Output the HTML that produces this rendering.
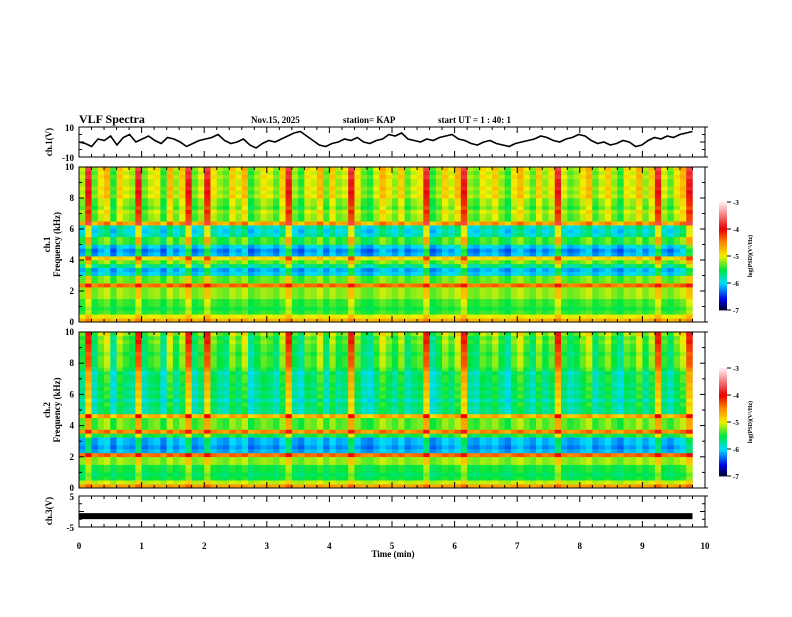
<!DOCTYPE html>
<html><head><meta charset="utf-8"><style>
body{margin:0;background:#fff}
svg text{font-family:"Liberation Serif",serif;font-weight:bold;fill:#000}
</style></head><body>
<svg id="c" width="792" height="612" xmlns="http://www.w3.org/2000/svg">
<text x="79" y="123" font-size="12">VLF Spectra</text>
<text x="251" y="123" font-size="9">Nov.15, 2025</text>
<text x="343" y="123" font-size="9">station= KAP</text>
<text x="438" y="123" font-size="9">start  UT =  1 : 40: 1</text>
<text x="393" y="557" font-size="9" text-anchor="middle">Time (min)</text>
</svg>
<script>
// ---- data ----
const timeMin = 9.8;
const ch1Volts = [0,-1,-3,2,1,4,-2,3,5,0,2,4,1,-1,3,2,0,-3,-1,1,2,3,5,1,-1,0,2,-2,-4,-1,1,0,2,4,6,7,4,1,-2,-3,-1,0,2,1,3,0,-1,1,2,5,4,6,2,1,0,2,1,3,4,5,2,1,-1,-2,0,1,-1,-2,-3,-1,0,1,2,4,3,1,0,2,3,5,4,1,-1,0,-2,-1,1,0,-3,-2,1,3,2,4,3,5,6,7];
const ch3Volts = -1.5;
const timeBurst = [0.45,0.9,0.3,0.6,0.8,0.2,0.7,0.5,0.4,0.9,0.3,0.5,0.6,0.2,0.8,0.4,0.7,0.9,0.3,0.5,0.9,0.6,0.4,0.3,0.7,0.5,0.8,0.2,0.4,0.6,0.5,0.3,0.7,0.9,0.4,0.2,0.6,0.5,0.8,0.3,0.7,0.4,0.5,0.9,0.6,0.3,0.2,0.5,0.8,0.6,0.4,0.7,0.3,0.5,0.6,0.9,0.2,0.4,0.7,0.5,0.8,0.9,0.4,0.3,0.6,0.5,0.7,0.4,0.2,0.6,0.8,0.5,0.3,0.7,0.4,0.6,0.9,0.5,0.3,0.4,0.6,0.8,0.3,0.5,0.7,0.4,0.2,0.6,0.5,0.8,0.4,0.7,0.9,0.5,0.3,0.6,0.8,0.9];
// log PSD per 0.25 kHz band, 0..10 kHz
const ch1Profile = [-4.7,-5.0,-5.4,-5.5,-5.4,-5.4,-5.2,-5.2,-5.2,-4.4,-5.3,-5.3,-6.0,-6.1,-5.7,-5.3,-4.9,-6.1,-6.2,-6.0,-5.4,-5.4,-5.8,-5.9,-5.8,-4.6,-5.2,-5.2,-5.1,-5.3,-5.2,-5.2,-5.0,-5.1,-5.0,-5.1,-5.1,-5.0,-5.1,-5.0];
const ch2Profile = [-4.6,-5.1,-5.5,-5.6,-5.5,-5.5,-5.2,-5.2,-4.4,-6.1,-6.2,-6.1,-6.1,-5.5,-4.5,-5.3,-5.3,-5.3,-4.7,-5.7,-5.7,-5.6,-5.8,-5.6,-5.7,-5.6,-5.7,-5.6,-5.6,-5.7,-5.5,-5.4,-5.4,-5.4,-5.5,-5.4,-5.4,-5.3,-5.4,-5.2];
const xTicks = [0,1,2,3,4,5,6,7,8,9,10];
const cbTicks = [-3,-4,-5,-6,-7];

const svg = document.getElementById('c');
const NS = 'http://www.w3.org/2000/svg';
const X0 = 79, X1 = 705;
const xs = t => X0 + t/10*(X1-X0);
function el(tag, a, p){const e=document.createElementNS(NS,tag);for(const k in a)e.setAttribute(k,a[k]);(p||svg).appendChild(e);return e;}
function txt(x,y,s,size,anchor,p){const e=el('text',{x,y,'font-size':size,'text-anchor':anchor||'start'},p);e.textContent=s;return e;}
const stops=[[-7,[0,0,40]],[-6.6,[0,0,230]],[-6,[0,220,255]],[-5.5,[0,230,60]],[-5,[240,240,0]],[-4.5,[255,140,0]],[-4,[230,0,0]],[-3,[255,240,245]]];
function cmap(v){v=Math.max(-7,Math.min(-3,v));for(let i=1;i<stops.length;i++){if(v<=stops[i][0]){const a=stops[i-1],b=stops[i],f=(v-a[0])/(b[0]-a[0]);const c=a[1].map((q,j)=>Math.round(q+(b[1][j]-q)*f));return `rgb(${c})`;}}return 'rgb(255,240,245)';}

function xAxisTicks(yTop,yBot,g){
  for(let i=0;i<=50;i++){const x=xs(i*0.2),L=(i%5==0)?6:3;
    el('line',{x1:x,y1:yTop,x2:x,y2:yTop+L,stroke:'#000','stroke-width':1},g);
    el('line',{x1:x,y1:yBot,x2:x,y2:yBot-L,stroke:'#000','stroke-width':1},g);}
}
function frame(y0,y1,name){const g=el('g',{});
  el('rect',{x:X0,y:y0,width:X1-X0,height:y1-y0,fill:'none',stroke:'#000','stroke-width':1},g);
  el('line',{x1:X0,y1:y0,x2:X1+3,y2:y0,stroke:'#000'},g);el('line',{x1:X0,y1:y1,x2:X1+3,y2:y1,stroke:'#000'},g);
  xAxisTicks(y0,y1,g);return g;}
function yTicks(y0,y1,n,g){for(let i=0;i<=n;i++){const y=y0+(y1-y0)*i/n,L=(i%2==0)?5:3;
  el('line',{x1:X0,y1:y,x2:X0+L,y2:y,stroke:'#000'},g);el('line',{x1:X1,y1:y,x2:X1-L,y2:y,stroke:'#000'},g);}}

// ch1 trace panel
const T0=127,T1=157;
const g1=frame(T0,T1,'ch1-panel');
yTicks(T0,T1,4,g1);
const ty=v=>(T0+T1)/2 - v/10*(T1-T0)/2;
const pts=ch1Volts.map((v,i)=>`${xs(i*timeMin/(ch1Volts.length-1)).toFixed(1)},${ty(v).toFixed(1)}`).join(' ');
const pl=el('polyline',{points:pts,fill:'none',stroke:'#000','stroke-width':1.6},g1);


txt(74,131,'10',9,'end');txt(74,161,'-10',9,'end');
const l1=txt(0,0,'ch.1(V)',9,'middle');l1.setAttribute('transform','translate(52,142) rotate(-90)');

function spectro(y0,y1,profile,name,cbY0,cbY1,lab){
  const g=el('g',{});
  const nb=profile.length,nt=timeBurst.length,bh=(y1-y0)/nb,cw=(xs(timeMin)-X0)/nt;
  for(let f=0;f<nb;f++){const w=0.3+1.3*(f/nb);
    for(let t=0;t<nt;t++){const b=timeBurst[t];const v=profile[f]+(b-0.5)*w*0.8+(b>0.85?0.5*w:0);
      const r=el('rect',{x:(X0+t*cw).toFixed(2),y:(y1-(f+1)*bh).toFixed(2),width:(cw+0.3).toFixed(2),height:(bh+0.3).toFixed(2),fill:cmap(v)},g);
      
      }}
  const fr=frame(y0,y1,name+'-frame');
  yTicks(y0,y1,10,fr);
  for(let k=0;k<=10;k+=2)txt(74,y1-(y1-y0)*k/10+3,String(k),9,'end');
  const a=txt(0,0,lab,9,'middle');a.setAttribute('transform',`translate(50,${(y0+y1)/2}) rotate(-90)`);
  const b=txt(0,0,'Frequency (kHz)',9,'middle');b.setAttribute('transform',`translate(60,${(y0+y1)/2}) rotate(-90)`);
  const cb=el('g',{});
  const n=60;for(let i=0;i<n;i++){const v=-7+4*(i+0.5)/n;el('rect',{x:719,y:(cbY1-(i+1)*(cbY1-cbY0)/n).toFixed(2),width:8,height:((cbY1-cbY0)/n+0.4).toFixed(2),fill:cmap(v)},cb);}
  cbTicks.forEach(v=>{const y=cbY1-(v+7)/4*(cbY1-cbY0);el('line',{x1:727,y1:y,x2:731,y2:y,stroke:'#000'},cb);txt(733,y+3,String(v),7,'start',cb);});
  const c=txt(0,0,'log(PSD)(V²/Hz)',6,'middle',cb);c.setAttribute('transform',`translate(752,${(cbY0+cbY1)/2}) rotate(-90)`);
}
spectro(167,322,ch1Profile,'ch1-spectrogram',202,310,'ch.1');
spectro(332,488,ch2Profile,'ch2-spectrogram',368,476,'ch.2');

// ch3 panel
const C0=496,C1=527;
const g3=frame(C0,C1,'ch3-panel');
yTicks(C0,C1,4,g3);
const cy=v=>(C0+C1)/2 - v/5*(C1-C0)/2;
const bar=el('rect',{x:X0,y:cy(ch3Volts)-3,width:xs(timeMin)-X0,height:6,fill:'#000'},g3);


txt(74,500,'5',9,'end');txt(74,531,'-5',9,'end');
const l3=txt(0,0,'ch.3(V)',9,'middle');l3.setAttribute('transform','translate(52,511) rotate(-90)');
xTicks.forEach(v=>{const t=txt(xs(v),549,String(v),9,'middle');});
</script>
</body></html>
